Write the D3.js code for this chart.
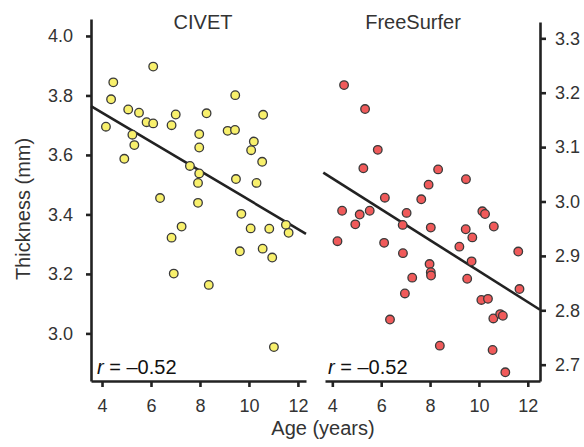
<!DOCTYPE html>
<html>
<head>
<meta charset="utf-8">
<script src="https://cdn.jsdelivr.net/npm/d3@7"></script>
<style>
  body { margin: 0; background: #fff; }
  svg { font-family: "Liberation Sans", Arial, sans-serif; }
</style>
</head>
<body>
<div id="chart"></div>
<script>
// data: [age, thickness]
const civetPoints = [
  [4.16, 3.695], [4.46, 3.844], [4.37, 3.787], [4.91, 3.587], [5.07, 3.753],
  [5.24, 3.668], [5.32, 3.633], [5.51, 3.742], [5.82, 3.710], [6.09, 3.706],
  [6.09, 3.897], [6.37, 3.455], [6.84, 3.700], [7.01, 3.736], [7.25, 3.359],
  [7.59, 3.563], [7.97, 3.670], [7.97, 3.625], [7.97, 3.538], [7.92, 3.506],
  [7.92, 3.439], [8.27, 3.740], [9.13, 3.681], [9.43, 3.684], [9.44, 3.801],
  [9.47, 3.519], [9.69, 3.402], [10.09, 3.616], [10.20, 3.645], [10.31, 3.506],
  [10.54, 3.577], [10.58, 3.735], [10.07, 3.353], [10.83, 3.352], [11.51, 3.365],
  [11.62, 3.338], [6.84, 3.322], [6.93, 3.201], [8.36, 3.163], [9.63, 3.276],
  [10.56, 3.285], [10.95, 3.255], [11.02, 2.954]
];
const freesurferPoints = [
  [4.48, 3.214], [5.34, 3.170], [5.86, 3.095], [5.27, 3.061], [6.15, 3.007],
  [4.40, 2.983], [5.12, 2.976], [5.53, 2.983], [4.94, 2.958], [7.04, 2.979],
  [6.88, 2.957], [7.64, 3.004], [7.94, 3.031], [8.33, 3.059], [9.47, 3.041],
  [10.14, 2.982], [10.25, 2.977], [8.03, 2.952], [9.46, 2.949], [10.61, 2.954],
  [4.21, 2.927], [6.12, 2.924], [6.89, 2.905], [9.73, 2.934], [9.20, 2.917],
  [9.70, 2.890], [7.98, 2.885], [8.03, 2.870], [8.04, 2.864], [7.27, 2.860],
  [9.52, 2.858], [6.97, 2.831], [10.10, 2.819], [10.37, 2.821], [11.61, 2.908],
  [11.66, 2.839], [6.36, 2.783], [10.59, 2.785], [10.87, 2.793], [10.98, 2.790],
  [8.40, 2.735], [10.56, 2.727], [11.08, 2.686]
];
// fitted lines as [age, thickness] end points
const civetFit = [[3.55, 3.764], [12.33, 3.335]];
const freesurferFit = [[3.63, 3.053], [12.5, 2.801]];

const ageTicks = [4, 6, 8, 10, 12];
const civetTicks = [3.0, 3.2, 3.4, 3.6, 3.8, 4.0];
const freesurferTicks = [2.7, 2.8, 2.9, 3.0, 3.1, 3.2, 3.3];
const panelTitles = ["CIVET", "FreeSurfer"];
const rLabels = ["\u2013 0.52", "\u2013 0.52"];

const width = 584, height = 447;
const ink = "#222";

const svg = d3.select("#chart")
  .append("svg")
    .attr("width", width)
    .attr("height", height);

// scales
const xLeft = d3.scaleLinear().domain([3.55, 12.33]).range([91, 306]);
const yLeft = d3.scaleLinear().domain([2.84, 4.057]).range([381, 19]);
const xRight = d3.scaleLinear().domain([3.7, 12.5]).range([325, 540]);
const yRight = d3.scaleLinear().domain([2.67, 3.33]).range([381, 22]);

function styleAxis(g) {
  g.selectAll("path.domain").attr("stroke", ink).attr("stroke-width", 2.6);
  g.selectAll(".tick line").attr("stroke", ink).attr("stroke-width", 2.6);
  g.selectAll(".tick text")
    .attr("fill", "#333")
    .style("font-size", "18px");
  g.attr("font-family", null).attr("font-size", null);
}

// LEFT PANEL (CIVET)
//********************************************
svg.append("g")
  .attr("transform", "translate(0,381)")
  .call(d3.axisBottom(xLeft).tickValues(ageTicks).tickSize(6).tickPadding(12).tickSizeOuter(0))
  .call(styleAxis);

svg.append("g")
  .attr("transform", "translate(91,0)")
  .call(d3.axisLeft(yLeft).tickValues(civetTicks).tickFormat(d3.format(".1f")).tickSize(5).tickPadding(13).tickSizeOuter(0))
  .call(styleAxis);

svg.append("line")
  .attr("x1", xLeft(civetFit[0][0])).attr("y1", yLeft(civetFit[0][1]))
  .attr("x2", xLeft(civetFit[1][0])).attr("y2", yLeft(civetFit[1][1]))
  .attr("stroke", ink).attr("stroke-width", 2.6);

svg.append("g").selectAll("circle")
  .data(civetPoints)
  .join("circle")
    .attr("cx", d => xLeft(d[0]))
    .attr("cy", d => yLeft(d[1]))
    .attr("r", 4.3)
    .attr("fill", "#f8f06c")
    .attr("stroke", "#3a3a3a")
    .attr("stroke-width", 1.3);

// RIGHT PANEL (FreeSurfer)
//********************************************
svg.append("g")
  .attr("transform", "translate(0,381)")
  .call(d3.axisBottom(xRight).tickValues(ageTicks).tickSize(6).tickPadding(12).tickSizeOuter(0))
  .call(styleAxis);

svg.append("g")
  .attr("transform", "translate(540,0)")
  .call(d3.axisRight(yRight).tickValues(freesurferTicks).tickFormat(d3.format(".1f")).tickSize(6).tickPadding(9).tickSizeOuter(0))
  .call(styleAxis);

svg.append("line")
  .attr("x1", xRight(freesurferFit[0][0])).attr("y1", yRight(freesurferFit[0][1]))
  .attr("x2", xRight(freesurferFit[1][0])).attr("y2", yRight(freesurferFit[1][1]))
  .attr("stroke", ink).attr("stroke-width", 2.6);

svg.append("g").selectAll("circle")
  .data(freesurferPoints)
  .join("circle")
    .attr("cx", d => xRight(d[0]))
    .attr("cy", d => yRight(d[1]))
    .attr("r", 4.3)
    .attr("fill", "#f05a5a")
    .attr("stroke", "#3a3a3a")
    .attr("stroke-width", 1.3);

// titles, r labels, axis labels
svg.selectAll("text.title")
  .data(panelTitles)
  .join("text")
    .attr("class", "title")
    .attr("x", (d, i) => i === 0 ? 203 : 413)
    .attr("y", 29)
    .attr("text-anchor", "middle")
    .attr("fill", "#333")
    .style("font-size", "20px")
    .text(d => d);

rLabels.forEach(function(lbl, i) {
  const t = svg.append("text")
    .attr("x", i === 0 ? 97 : 328)
    .attr("y", 374)
    .attr("fill", "#111")
    .style("font-size", "20px");
  t.append("tspan").attr("font-style", "italic").text("r");
  t.append("tspan").text(" = " + lbl.replace(" ", ""));
});

svg.append("text")
  .attr("x", 323)
  .attr("y", 435)
  .attr("text-anchor", "middle")
  .attr("fill", "#333")
  .style("font-size", "20px")
  .text("Age (years)");

svg.append("text")
  .attr("transform", "translate(30,209) rotate(-90)")
  .attr("text-anchor", "middle")
  .attr("fill", "#333")
  .style("font-size", "20px")
  .text("Thickness (mm)");
</script>
</body>
</html>
